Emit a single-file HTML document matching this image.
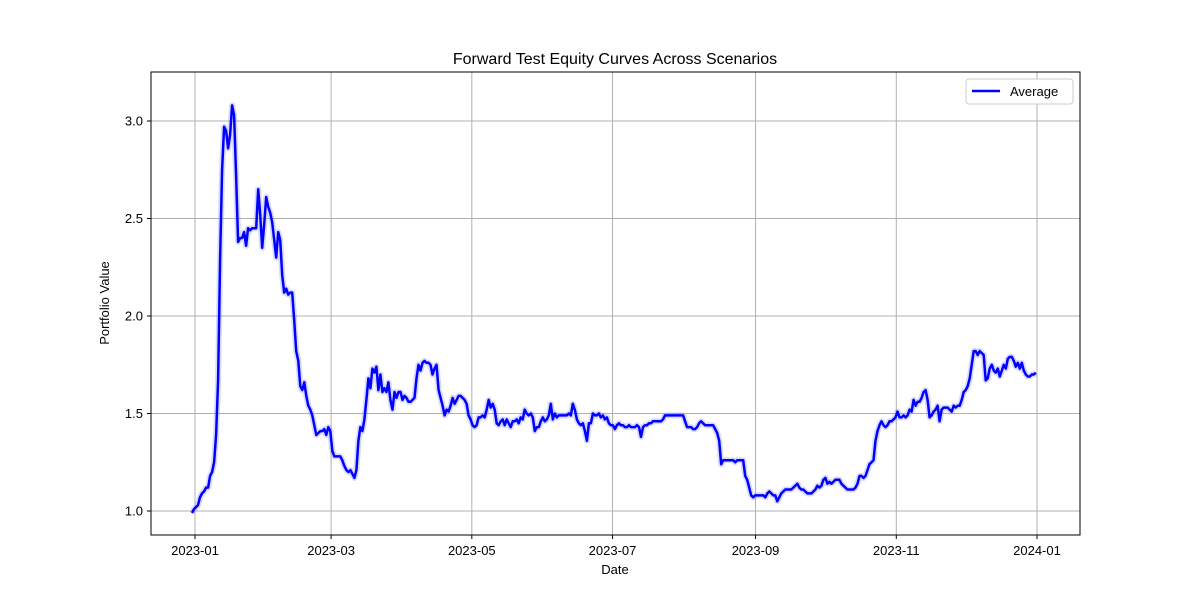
<!DOCTYPE html>
<html><head><meta charset="utf-8"><style>
body{margin:0;background:#fff;}
svg text{font-family:"Liberation Sans","DejaVu Sans",sans-serif;fill:#000;}
</style></head><body>
<svg id="chart" width="1200" height="600" xmlns="http://www.w3.org/2000/svg">
<rect width="1200" height="600" fill="#fff"/>
<g id="grid"></g>
<g id="ticks"></g>
<g id="series"></g>
<rect x="151" y="72" width="929" height="463" fill="none" stroke="#000" stroke-width="1"/>
<text x="615" y="64" font-size="16" text-anchor="middle">Forward Test Equity Curves Across Scenarios</text>
<text x="615" y="574" font-size="13" text-anchor="middle">Date</text>
<text transform="translate(109,303) rotate(-90)" font-size="13" text-anchor="middle">Portfolio Value</text>
<g>
<rect x="966" y="79" width="107" height="25" rx="3" fill="#fff" stroke="#ccc"/>
<line x1="972" y1="91" x2="1000" y2="91" stroke="#0000ff" stroke-width="2.5"/>
<text x="1010" y="96" font-size="13">Average</text>
</g>
</svg>
<script>
const yTicks=[1.0,1.5,2.0,2.5,3.0];
const yTickLabels=["1.0","1.5","2.0","2.5","3.0"];
const xTickDates=["2023-01-01","2023-03-01","2023-05-01","2023-07-01","2023-09-01","2023-11-01","2024-01-01"];
const xTickLabels=["2023-01","2023-03","2023-05","2023-07","2023-09","2023-11","2024-01"];
const startDate="2022-12-30T17:00:00Z";
const endDate="2023-12-31T12:00:00Z";
const averageValues=[0.99,1.01,1.02,1.03,1.07,1.09,1.10,1.12,1.12,1.18,1.20,1.25,1.39,1.67,2.29,2.75,2.97,2.95,2.86,2.93,3.08,3.03,2.72,2.38,2.40,2.40,2.43,2.36,2.45,2.44,2.45,
2.45,2.45,2.65,2.52,2.35,2.47,2.61,2.56,2.53,2.48,2.39,2.30,2.43,2.39,2.21,2.12,2.14,2.11,2.12,2.12,1.98,1.82,1.77,1.64,1.62,1.66,1.59,1.54,1.52,1.49,1.44,1.39,1.40,1.41,1.41,1.42,1.39,1.43,1.41,1.31,1.28,1.28,1.28,1.28,1.26,1.23,1.21,1.20,1.21,1.19,1.17,1.21,1.36,1.43,1.41,1.47,1.57,1.68,1.63,1.73,1.71,1.74,1.62,1.70,1.61,1.63,1.61,1.66,1.57,1.52,1.61,1.58,1.61,1.61,1.57,1.59,1.58,1.56,1.56,1.57,1.58,1.68,1.75,1.72,1.76,1.77,1.76,1.76,1.75,1.70,1.73,1.75,1.62,1.58,1.54,1.49,1.52,1.51,1.54,1.58,1.55,1.57,1.59,1.59,1.58,1.57,1.55,1.49,1.47,1.44,1.43,1.44,1.48,1.48,1.49,1.48,1.52,1.57,1.53,1.55,1.52,1.45,1.44,1.46,1.47,1.44,1.47,1.45,1.43,1.46,1.46,1.47,1.45,1.48,1.47,1.52,1.50,1.49,1.50,1.48,1.41,1.43,1.43,1.46,1.48,1.46,1.47,1.49,1.55,1.47,1.50,1.48,1.49,1.49,1.49,1.49,1.49,1.50,1.49,1.55,1.52,1.47,1.45,1.44,1.45,1.41,1.36,1.45,1.45,1.50,1.49,1.49,1.50,1.48,1.49,1.47,1.48,1.45,1.44,1.44,1.42,1.44,1.45,1.44,1.44,1.43,1.43,1.44,1.43,1.43,1.43,1.44,1.43,1.38,1.43,1.44,1.44,1.45,1.45,1.46,1.46,1.46,1.46,1.46,1.47,1.49,1.49,1.49,1.49,1.49,1.49,1.49,1.49,1.49,1.49,1.46,1.43,1.43,1.43,1.42,1.42,1.43,1.45,1.46,1.45,1.44,1.44,1.44,1.44,1.44,1.42,1.40,1.36,1.24,1.26,1.26,1.26,1.26,1.26,1.26,1.25,1.26,1.26,1.26,1.26,1.18,1.16,1.12,1.08,1.07,1.08,1.08,1.08,1.08,1.08,1.07,1.09,1.10,1.09,1.08,1.08,1.05,1.07,1.09,1.10,1.11,1.11,1.11,1.11,1.12,1.13,1.14,1.12,1.11,1.11,1.10,1.09,1.09,1.09,1.10,1.11,1.13,1.12,1.13,1.16,1.17,1.14,1.15,1.14,1.15,1.16,1.16,1.16,1.14,1.13,1.12,1.11,1.11,1.11,1.11,1.12,1.14,1.18,1.18,1.17,1.18,1.21,1.24,1.25,1.26,1.36,1.41,1.44,1.46,1.44,1.43,1.44,1.46,1.46,1.47,1.48,1.51,1.48,1.48,1.49,1.48,1.49,1.52,1.51,1.57,1.54,1.56,1.56,1.58,1.61,1.62,1.57,1.48,1.49,1.51,1.52,1.54,1.46,1.52,1.53,1.53,1.53,1.52,1.51,1.54,1.53,1.54,1.54,1.57,1.61,1.62,1.64,1.68,1.75,1.82,1.82,1.80,1.82,1.81,1.80,1.67,1.68,1.73,1.75,1.72,1.71,1.73,1.69,1.72,1.75,1.73,1.78,1.79,1.79,1.77,1.74,1.76,1.73,1.76,1.72,1.70,1.69,1.69,1.70,1.70,1.71];

const X0=195, PXDAY=842/365, Y0=511, PXVAL=390/2.0;
const base=Date.parse("2023-01-01T00:00:00Z");
function xDay(d){return X0+d*PXDAY;}
function xDate(s){return xDay((Date.parse(s+"T00:00:00Z")-base)/86400000);}
function yVal(v){return Y0-(v-1)*PXVAL;}
const NS="http://www.w3.org/2000/svg";
function mk(tag,attrs,parent){const e=document.createElementNS(NS,tag);for(const k in attrs)e.setAttribute(k,attrs[k]);parent.appendChild(e);return e;}
const grid=document.getElementById('grid'),ticks=document.getElementById('ticks'),series=document.getElementById('series');
yTicks.forEach((v,i)=>{const y=yVal(v);
 const g=mk('line',{x1:151,x2:1080,y1:y,y2:y,stroke:'#b0b0b0','stroke-width':1},grid);
 
 
 mk('line',{x1:147,x2:151,y1:y,y2:y,stroke:'#000'},ticks);
 const t=mk('text',{x:143,y:y+4.5,'font-size':13,'text-anchor':'end'},ticks);t.textContent=yTickLabels[i];
 
 
});
xTickDates.forEach((d,i)=>{const x=xDate(d);
 const g=mk('line',{x1:x,x2:x,y1:72,y2:535,stroke:'#b0b0b0','stroke-width':1},grid);
 
 
 mk('line',{x1:x,x2:x,y1:535,y2:539,stroke:'#000'},ticks);
 const t=mk('text',{x:x,y:555,'font-size':13,'text-anchor':'middle'},ticks);t.textContent=xTickLabels[i];
 
 
});
const startOff=(Date.parse(startDate)-base)/86400000;
const endOff=(Date.parse(endDate)-base)/86400000;
const n=averageValues.length;
const pts=averageValues.map((v,i)=>xDay(startOff+(endOff-startOff)*i/(n-1)).toFixed(1)+","+yVal(v).toFixed(1)).join(" ");
const band=mk('polyline',{points:pts,fill:'none',stroke:'#8080ff','stroke-opacity':0.3,'stroke-width':6,'stroke-linejoin':'round'},series);


const line=mk('polyline',{points:pts,fill:'none',stroke:'#0000ff','stroke-width':2.5,'stroke-linejoin':'round'},series);


</script>
</body></html>
